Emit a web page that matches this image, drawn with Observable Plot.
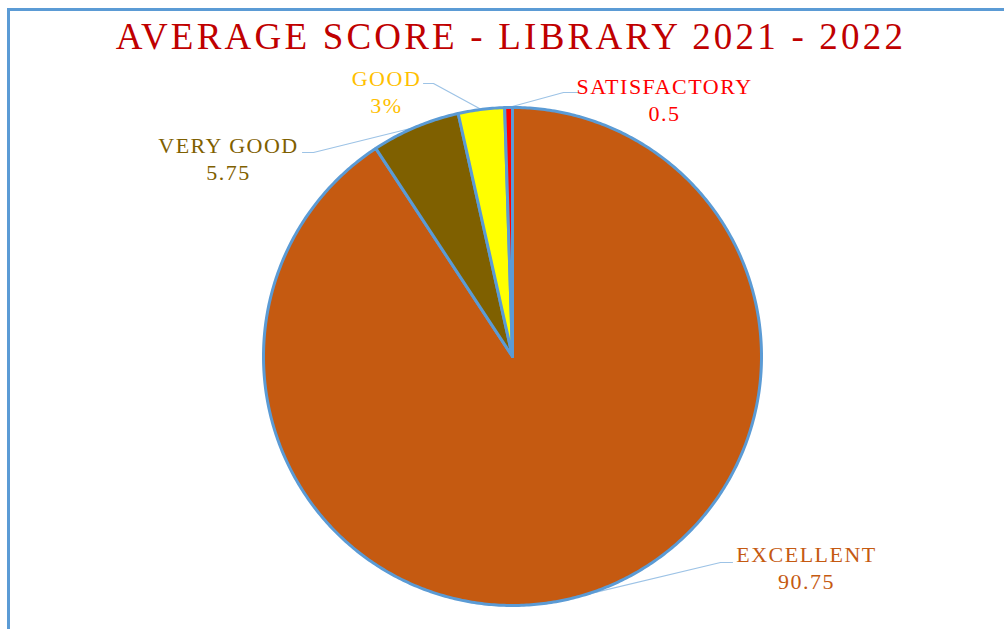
<!DOCTYPE html>
<html>
<head>
<meta charset="utf-8">
<script src="https://cdn.jsdelivr.net/npm/d3@7"></script>
<script src="https://cdn.jsdelivr.net/npm/@observablehq/plot@0.6"></script>
<style>
  html, body { margin: 0; padding: 0; background: #fff; overflow: hidden; }
  #wrap { position: relative; width: 1004px; height: 629px; overflow: hidden; background: #fff; }
  .hline { position: absolute; left: 7px; top: 8px; width: 997px; height: 3px; background: #5B9BD5; }
  .vline { position: absolute; left: 7px; top: 8px; width: 3px; height: 621px; background: #5B9BD5; }
  #title { position: absolute; left: 0; top: 0; width: 1004px; height: 50px; box-sizing: border-box;
           padding-left: 18px; text-align: center; line-height: 74px; font-family: "Liberation Serif", serif;
           font-size: 37px; color: #C00000; letter-spacing: 3.2px; white-space: pre; }
  #chart { position: absolute; left: 0; top: 50px; }
  #chart svg { display: block; overflow: visible; }
  #chart text { letter-spacing: 1.5px; font-family: "Liberation Serif", serif !important; }
</style>
</head>
<body>
<div id="wrap">
  <div class="hline"></div>
  <div class="vline"></div>
  <div id="title">AVERAGE SCORE - LIBRARY 2021 - 2022</div>
  <div id="chart"></div>
</div>
<script>
// ---- data ----
const categories = ["EXCELLENT", "VERY GOOD", "GOOD", "SATISFACTORY"];
const values = [90.75, 5.75, 3, 0.5];
const valueLabels = ["90.75", "5.75", "3%", "0.5"];

// ---- styles ----
const sliceColors = ["#C55A11", "#7F6000", "#FFFF00", "#FF0000"];
const labelColors = ["#C55A11", "#7F6000", "#FFC000", "#FF0000"];
const edgeColor = "#5B9BD5";
const leaderColor = "#9DC3E6";
const fontFamily = "Liberation Serif";

// ---- layout (pixel units relative to pie centre, y up) ----
const W = 1004, H = 579, R = 249;
const cx = 512, cy = 306;
// label block centre, and leader elbow / end
const labelPos = [
  {lx: 294, ly: -210, ex: 208, ey: -206, tx: 220, ty: -206},
  {lx: -284, ly: 199, ex: -199, ey: 204, tx: -210, ty: 204},
  {lx: -126, ly: 266, ex: -79, ey: 273, tx: -89, ty: 273},
  {lx: 152, ly: 258, ex: 51, ey: 264, tx: 65, ty: 264}
];

const arcs = d3.pie().sort(null)(values);
const pt = (a, r) => ({x: r * Math.sin(a), y: r * Math.cos(a)});

const sliceMarks = arcs.map((a, i) => {
  const pts = [{x: 0, y: 0}];
  const n = Math.max(2, Math.ceil((a.endAngle - a.startAngle) / 0.01));
  for (let k = 0; k <= n; k++) pts.push(pt(a.startAngle + (a.endAngle - a.startAngle) * k / n, R));
  return Plot.line(pts, {x: "x", y: "y", curve: "linear-closed", fill: sliceColors[i],
    stroke: edgeColor, strokeWidth: 3, strokeLinejoin: "round"});
});

const leaderMarks = arcs.map((a, i) => {
  const m = pt((a.startAngle + a.endAngle) / 2, R);
  const L = labelPos[i];
  return Plot.line([m, {x: L.ex, y: L.ey}, {x: L.tx, y: L.ty}], {x: "x", y: "y",
    stroke: leaderColor, strokeWidth: 1.2});
});

const labelData = categories.map((c, i) => ({x: labelPos[i].lx, y: labelPos[i].ly,
  text: c + "\n" + valueLabels[i], color: labelColors[i]}));

const chart = Plot.plot({
  width: W, height: H, margin: 0,
  style: {fontFamily: "Liberation Serif", background: "transparent"},
  x: {domain: [-cx, W - cx], range: [0, W], axis: null},
  y: {domain: [-(H - cy), cy], range: [H, 0], axis: null},
  marks: [
    ...leaderMarks,
    ...sliceMarks,
    Plot.text(labelData, {x: "x", y: "y", text: "text", fill: d => d.color,
      fontSize: 22, fontFamily, lineHeight: 1.25, textAnchor: "middle"})
  ],
  color: {type: "identity"}
});
document.getElementById("chart").appendChild(chart);
</script>
</body>
</html>
